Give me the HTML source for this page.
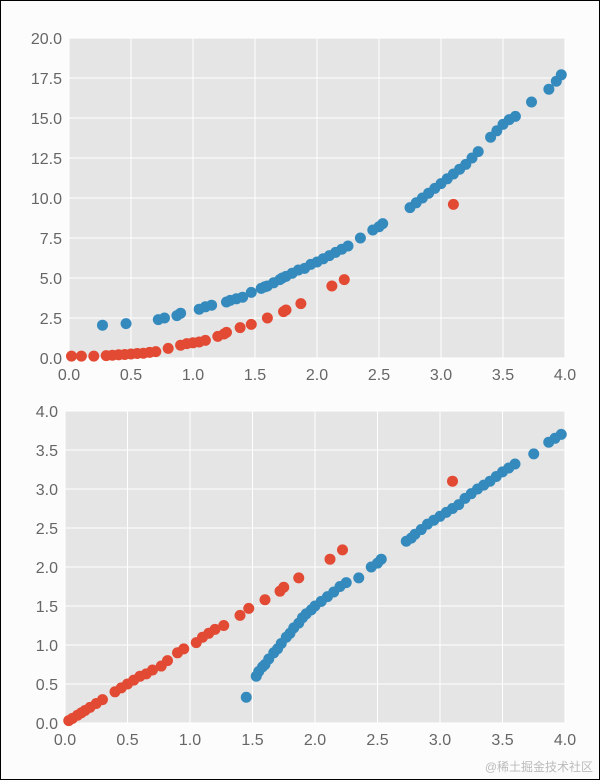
<!DOCTYPE html>
<html><head><meta charset="utf-8"><style>
body{margin:0;background:#fff}
#wrap{position:relative;width:598px;height:778px;border:1px solid #000;background:#fcfcfc;overflow:hidden}
svg text{font-family:"Liberation Sans",sans-serif;font-size:16px;fill:#666}
.wm{position:absolute;right:6px;bottom:4px;font:12px "Liberation Sans","Noto Sans CJK SC",sans-serif;color:#bbb}
</style></head><body>
<div id="wrap">
<svg id="chart" width="598" height="778"></svg>
<div class="wm">@稀土掘金技术社区</div>
</div>
<script>
const xTicks=[0,0.5,1,1.5,2,2.5,3,3.5,4];
const topYTicks=[0,2.5,5,7.5,10,12.5,15,17.5,20];
const botYTicks=[0,0.5,1,1.5,2,2.5,3,3.5,4];
const topBlueX=[0.27,0.46,0.72,0.77,0.87,0.9,1.05,1.1,1.15,1.27,1.3,1.35,1.4,1.47,1.55,1.58,1.6,1.65,1.7,1.72,1.75,1.8,1.85,1.9,1.95,2.0,2.05,2.1,2.15,2.2,2.25,2.35,2.45,2.5,2.53,2.75,2.8,2.85,2.9,2.95,3.0,3.05,3.1,3.15,3.2,3.25,3.3,3.4,3.45,3.5,3.55,3.6,3.73,3.87,3.93,3.97];
const topBlueY=[2.05,2.15,2.4,2.5,2.65,2.8,3.05,3.2,3.3,3.5,3.6,3.7,3.8,4.1,4.35,4.45,4.5,4.7,4.9,5.0,5.1,5.3,5.5,5.6,5.85,6.0,6.2,6.4,6.6,6.8,7.0,7.5,8.0,8.2,8.4,9.4,9.7,10.0,10.3,10.6,10.9,11.2,11.5,11.8,12.1,12.5,12.9,13.8,14.2,14.6,14.9,15.1,16.0,16.8,17.3,17.7];
const topRedX=[0.02,0.1,0.2,0.3,0.35,0.4,0.45,0.5,0.55,0.6,0.65,0.7,0.8,0.9,0.95,1.0,1.05,1.1,1.2,1.25,1.27,1.38,1.47,1.6,1.73,1.75,1.87,2.12,2.22,3.1];
const topRedY=[0.12,0.12,0.12,0.15,0.17,0.2,0.22,0.25,0.28,0.3,0.35,0.4,0.6,0.8,0.9,0.95,1.0,1.1,1.35,1.5,1.6,1.9,2.1,2.5,2.9,3.0,3.4,4.5,4.9,9.6];
const botBlueX=[1.45,1.53,1.55,1.58,1.6,1.63,1.67,1.7,1.73,1.77,1.8,1.83,1.87,1.9,1.93,1.97,2.0,2.05,2.1,2.15,2.2,2.25,2.35,2.45,2.5,2.53,2.73,2.77,2.8,2.85,2.9,2.95,3.0,3.05,3.1,3.15,3.2,3.25,3.3,3.35,3.4,3.45,3.5,3.55,3.6,3.75,3.87,3.92,3.97];
const botBlueY=[0.33,0.6,0.66,0.72,0.75,0.82,0.9,0.95,1.02,1.1,1.15,1.22,1.28,1.35,1.4,1.45,1.5,1.56,1.62,1.68,1.75,1.8,1.86,2.0,2.05,2.1,2.33,2.37,2.42,2.48,2.55,2.6,2.65,2.7,2.75,2.8,2.88,2.94,3.0,3.05,3.1,3.16,3.22,3.27,3.32,3.45,3.6,3.65,3.7];
const botRedX=[0.03,0.06,0.1,0.13,0.16,0.2,0.25,0.3,0.4,0.45,0.5,0.55,0.6,0.65,0.7,0.77,0.82,0.9,0.95,1.05,1.1,1.15,1.2,1.27,1.4,1.47,1.6,1.72,1.75,1.87,2.12,2.22,3.1];
const botRedY=[0.03,0.06,0.1,0.13,0.16,0.2,0.25,0.3,0.4,0.45,0.5,0.55,0.6,0.63,0.68,0.73,0.8,0.9,0.95,1.03,1.1,1.15,1.2,1.25,1.38,1.47,1.58,1.69,1.74,1.86,2.1,2.22,3.1];
const NS='http://www.w3.org/2000/svg';
const svg=document.getElementById('chart');
function mk(t,a){const e=document.createElementNS(NS,t);for(const k in a)e.setAttribute(k,a[k]);svg.appendChild(e);return e;}
function panel(name,L,R,T,B,ymax,yt,series){
  const sx=v=>L+(R-L)*v/4, sy=v=>B-(B-T)*v/ymax;
  const bg=mk('rect',{x:L,y:T,width:R-L,height:B-T,fill:'#e5e5e5'});
  
  
  xTicks.forEach(v=>{const l=mk('line',{x1:sx(v),x2:sx(v),y1:T,y2:B,stroke:'#fff','stroke-width':1});
    
    
    const t=mk('text',{x:sx(v),y:B+22,'text-anchor':'middle'});t.textContent=v.toFixed(1);
    
    });
  yt.forEach(v=>{const l=mk('line',{x1:L,x2:R,y1:sy(v),y2:sy(v),stroke:'#fff','stroke-width':1});
    
    
    const t=mk('text',{x:L-7,y:sy(v)+6,'text-anchor':'end'});t.textContent=v.toFixed(1);
    
    });
  series.forEach(s=>{s.x.forEach((xv,i)=>{const c=mk('circle',{cx:sx(xv),cy:sy(s.y[i]),r:5.5,fill:s.c});
    
    });});
}
panel('top-chart',68,564,37,357,20,topYTicks,[{x:topBlueX,y:topBlueY,c:'#348abd',n:'blue'},{x:topRedX,y:topRedY,c:'#e24a33',n:'red'}]);
panel('bottom-chart',64,564,410,722,4,botYTicks,[{x:botBlueX,y:botBlueY,c:'#348abd',n:'blue'},{x:botRedX,y:botRedY,c:'#e24a33',n:'red'}]);
</script>
</body></html>
